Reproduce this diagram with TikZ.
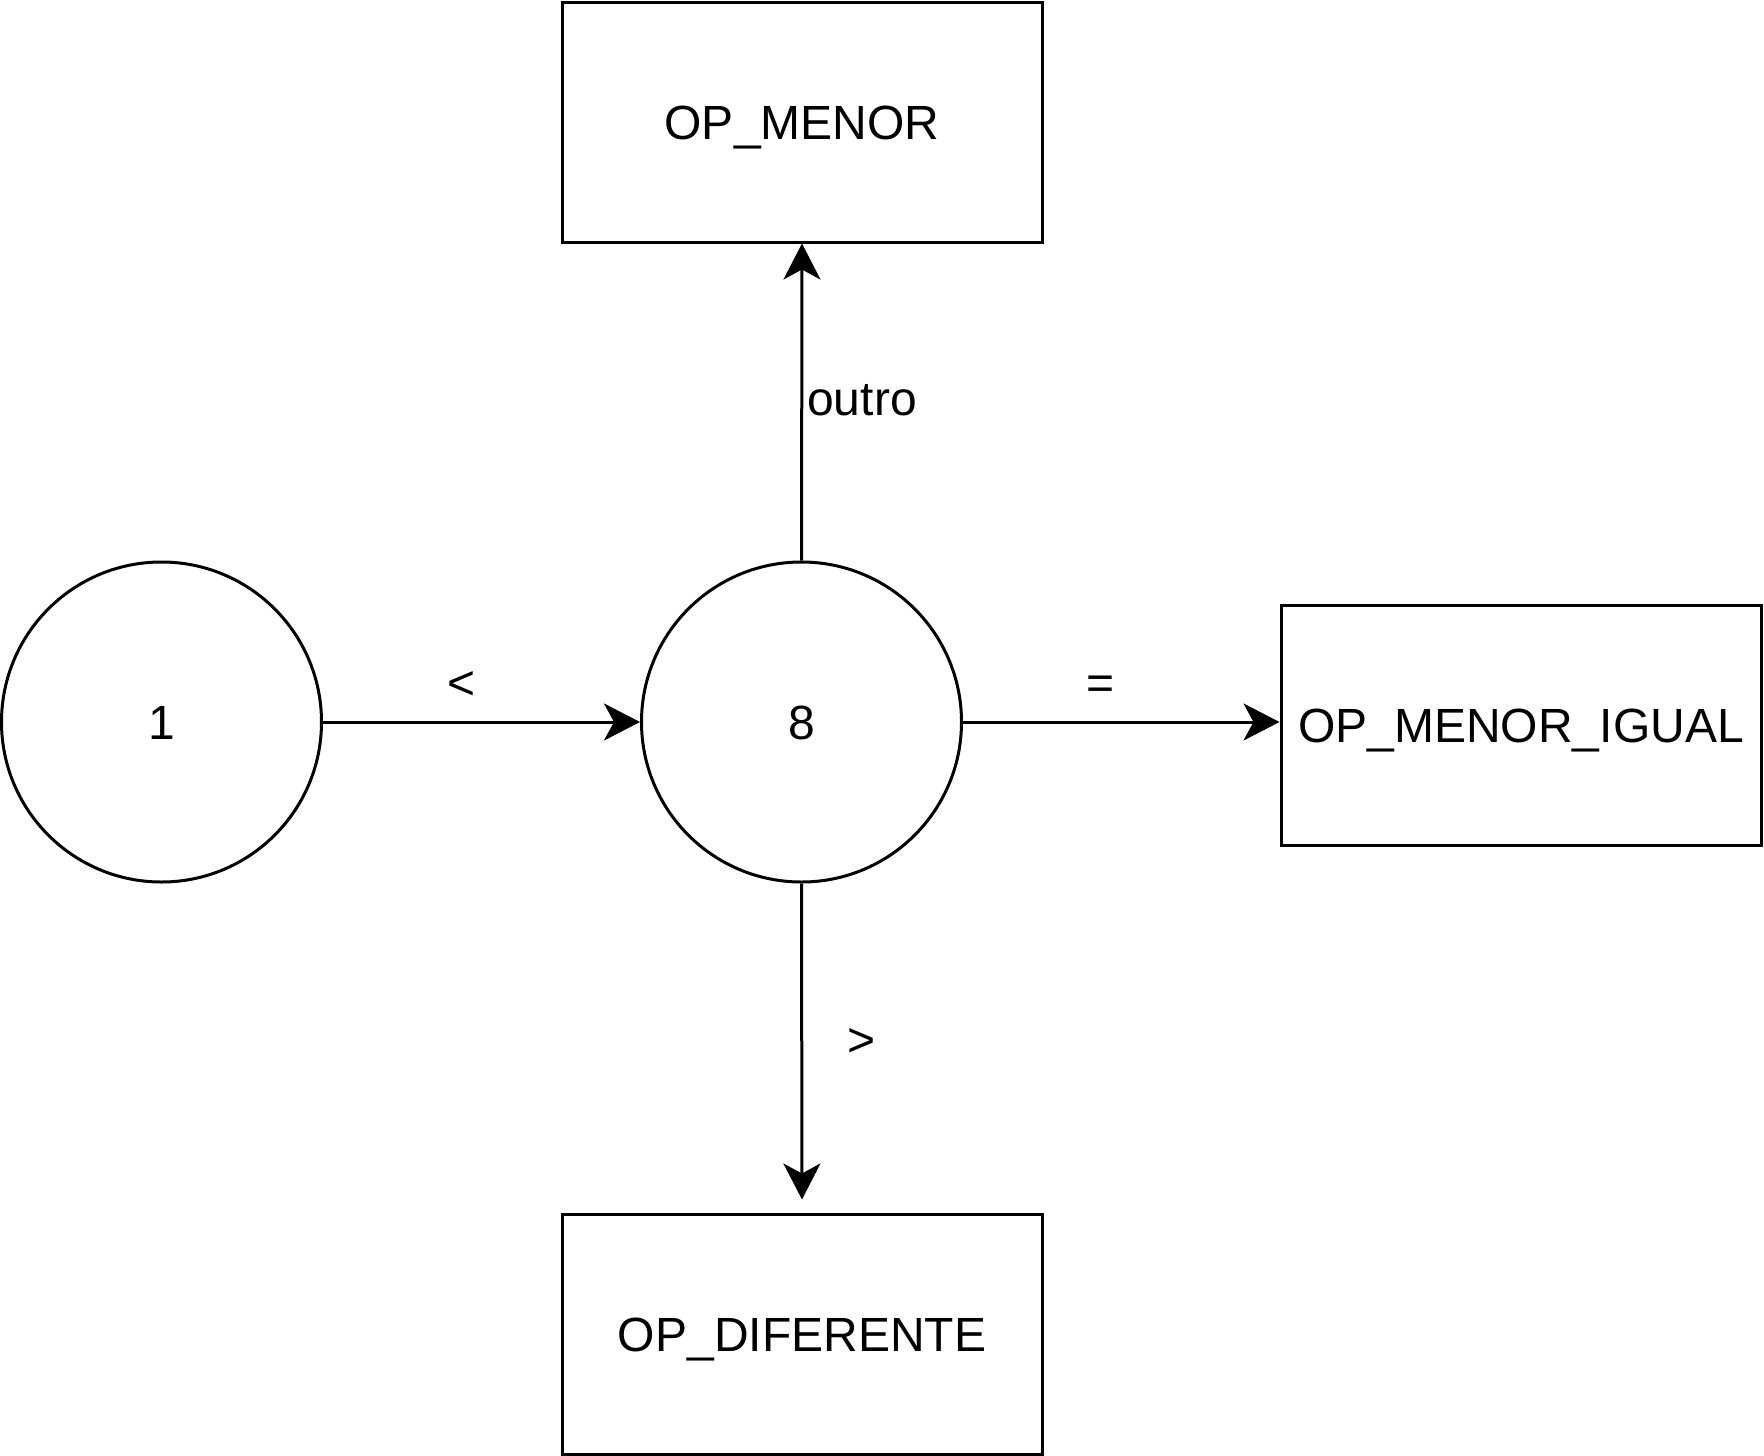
\documentclass[tikz,border=0pt]{standalone}
\usepackage{fontspec}
\setmainfont{Liberation Sans}
\usetikzlibrary{arrows.meta}
\begin{document}
\begin{tikzpicture}[x=1pt,y=-1pt,
  every node/.style={font=\fontsize{48}{57}\selectfont},
  state/.style={draw, circle, line width=3pt, minimum size=320pt, inner sep=0pt, text height=34pt, text depth=0pt},
  tokbox/.style={draw, rectangle, line width=3pt, minimum width=480pt, minimum height=240pt, inner sep=0pt, text height=34pt, text depth=0pt},
  conn/.style={line width=3pt, -{Stealth[length=36pt,width=37pt,inset=10pt]}},
  lbl/.style={inner sep=0pt, anchor=base}
]
\useasboundingbox (0,0) rectangle (1764,1456);
\node[state] (s1) at (161.5,722) {1};
\node[state] (s8) at (801.5,722) {8};
\node[tokbox] (menor) at (802,122) {OP\_MENOR};
\node[tokbox] (igual) at (1521,725) {OP\_MENOR\_IGUAL};
\node[tokbox] (dif) at (802,1334) {OP\_DIFERENTE};

\draw[conn] (s1) -- (s8);
\draw[conn] (s8.north) -- (menor.south);
\draw[conn] (s8.east) -- (s8.east -| igual.west);
\draw[conn, shorten >=13pt] (s8.south) -- (dif.north);

\node[lbl] (lt) at (462,699) {<};
\node[lbl] (eq) at (1101,699) {=};
\node[lbl] (ou) at (862,415) {outro};
\node[lbl] (gt) at (862,1056) {>};
\end{tikzpicture}
\end{document}
